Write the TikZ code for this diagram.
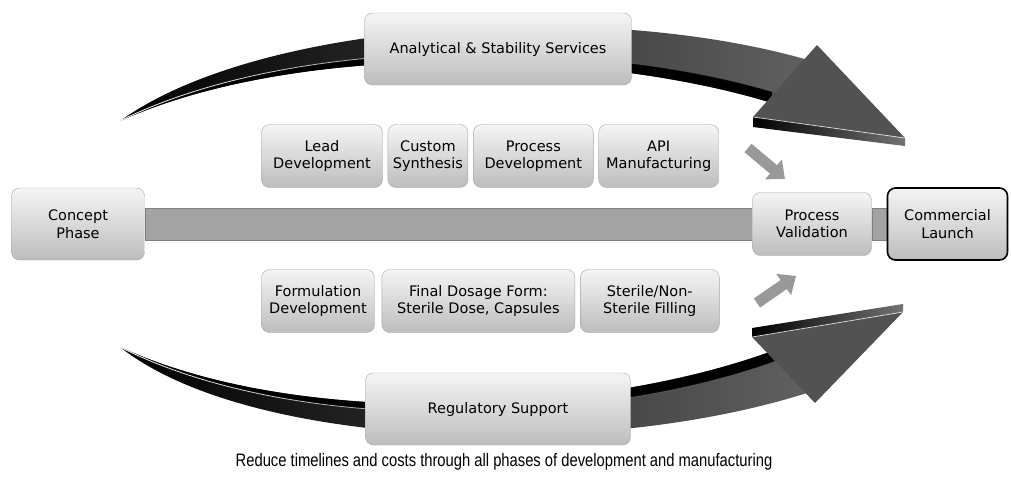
\documentclass[tikz,border=0pt]{standalone}
\usepackage{fontspec}
\setmainfont{DejaVu Sans}
\newfontfamily\captionfont[FakeStretch=0.82]{Liberation Sans}
\usepackage{tikz}
\usetikzlibrary{positioning}
\usetikzlibrary{arrows.meta}
\usetikzlibrary{fadings}
\usetikzlibrary{backgrounds}
\usepackage{xcolor}

\begin{document}
\begin{tikzpicture}[x=1pt,y=-1pt,
	box node/.style={draw=black!35,rounded corners=8pt,top color=black!4,bottom color=black!26,align=center,minimum height=63pt,inner sep=0pt,font=\fontsize{14.5}{17.5}\selectfont},
	wide node/.style={box node,minimum height=72pt},
	band/.style={fill=black},
	shine/.style={draw=white,line width=0.8pt,path fading=east},
	feed/.style={-{Triangle[width=25pt,length=15pt]},line width=11pt,draw=black!40}]

	\useasboundingbox (0,0) rectangle (1011,493);

	\shade[left color=black,right color=black!62] (120,121) .. controls (260,20) and (600,0) .. (808,60) -- (772,103) .. controls (600,50) and (300,40) .. (120,121) -- cycle;
	\fill[band] (772,103) .. controls (600,50) and (300,40) .. (120,121) .. controls (300,32) and (600,40) .. (772,92) -- cycle;
	\draw[shine] (120,121) .. controls (300,32) and (600,40) .. (772,92);
	\fill[black!68] (817,45) -- (905,138) -- (753,117) -- cycle;
	\shade[left color=black,right color=black!55] (753,117) -- (905,138) -- (905,146) -- (753,127) -- cycle;
	\draw[white,opacity=0.7,line width=0.8pt] (753,117) -- (905,138);

	\shade[left color=black,right color=black!62] (120,347) .. controls (250,450) and (600,460) .. (810,392) -- (775,350) .. controls (600,415) and (300,430) .. (120,347) -- cycle;
	\fill[band] (775,350) .. controls (600,415) and (300,430) .. (120,347) .. controls (300,438) and (600,425) .. (775,361) -- cycle;
	\draw[shine] (120,347) .. controls (300,438) and (600,425) .. (775,361);
	\fill[black!68] (815,403) -- (903,312) -- (752,337) -- cycle;
	\shade[left color=black,right color=black!55] (752,328) -- (903,304) -- (903,312) -- (752,337) -- cycle;
	\draw[white,opacity=0.7,line width=0.8pt] (752,337) -- (903,312);

	\node[wide node,minimum width=133pt] (1) at (78,224) {Concept\\Phase};
	\node[box node,minimum width=119pt] (2) at (812,224) {Process\\Validation};
	\node[wide node,minimum width=120pt,draw=black,line width=1.6pt] (3) [right=15pt of 2] {Commercial\\Launch};

	\node[wide node,minimum width=267pt] (4) at (498,49) {Analytical \& Stability Services};
	\node[box node,minimum width=121pt] (5) at (322,156) {Lead\\Development};
	\node[box node,minimum width=80pt] (6) [right=5pt of 5] {Custom\\Synthesis};
	\node[box node,minimum width=120pt] (7) [right=5pt of 6] {Process\\Development};
	\node[box node,minimum width=120pt] (8) [right=5pt of 7] {API\\Manufacturing};

	\node[box node,minimum width=113pt] (9) at (318,301) {Formulation\\Development};
	\node[box node,minimum width=193pt] (10) [right=7pt of 9] {Final Dosage Form:\\Sterile Dose, Capsules};
	\node[box node,minimum width=139pt] (11) [right=5pt of 10] {Sterile/Non-\\Sterile Filling};
	\node[wide node,minimum width=265pt] (12) at (498,409) {Regulatory Support};

	\node[font=\captionfont\fontsize{18}{21}\selectfont] (13) at (504,462) {Reduce timelines and costs through all phases of development and manufacturing};

	\begin{scope}[on background layer]
		\path[fill=black!36,draw=black!50] ([yshift=16pt]1.east) rectangle ([yshift=-16pt]2.west);
		\path[fill=black!36,draw=black!50] ([yshift=16pt]2.east) rectangle ([yshift=-16pt]3.west);
	\end{scope}

	\coordinate (a1) at (748,148);
	\coordinate (a2) at (785,179);
	\coordinate (b1) at (757,303);
	\coordinate (b2) at (796,276);
	\draw[feed] (a1) -- (a2);
	\draw[feed] (b1) -- (b2);

\end{tikzpicture}
\end{document}
